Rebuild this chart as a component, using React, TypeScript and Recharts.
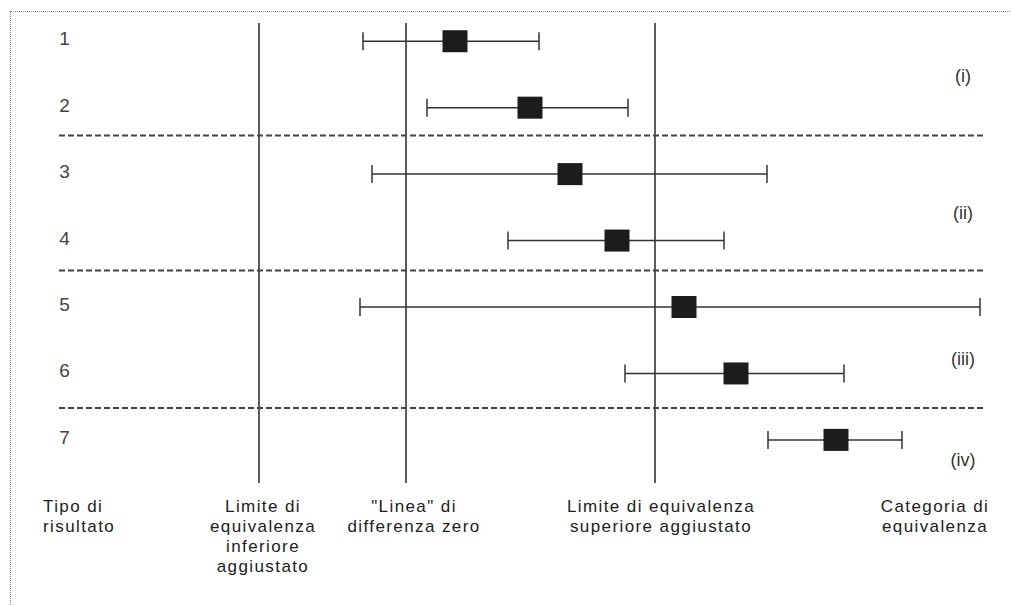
import React from 'react'
import { ComposedChart, Scatter, ErrorBar, XAxis, YAxis, ReferenceLine } from 'recharts'

// Forest-style equivalence diagram. x: difference (zero line at 0), y: result row.
const ROWS = [1, 2, 3, 4, 5, 6, 7]
const ESTIMATES = [0.49, 1.24, 1.64, 2.11, 2.78, 3.3, 4.3]
const LOWER = [-0.43, 0.21, -0.34, 1.02, -0.46, 2.19, 3.62]
const UPPER = [1.33, 2.22, 3.61, 3.18, 5.74, 4.38, 4.96]

// vertical reference lines
const LOWER_LIMIT = -1.47
const ZERO_LINE = 0
const UPPER_LIMIT = 2.49

// dashed group separators (between rows 2/3, 4/5, 6/7)
const SEPARATORS = [2.42, 4.45, 6.52]

const CATEGORIES = ['(i)', '(ii)', '(iii)', '(iv)']
const CATEGORY_Y = [1.53, 3.59, 5.78, 7.3]

const COLUMN_TITLES = [
  ['Tipo di', 'risultato'],
  ['Limite di', 'equivalenza', 'inferiore', 'aggiustato'],
  ['"Linea" di', 'differenza zero'],
  ['Limite di equivalenza', 'superiore aggiustato'],
  ['Categoria di', 'equivalenza']
]
const COLUMN_X = [-3.63, -1.43, 0.08, 2.55, 5.29]
const COLUMN_ANCHOR = ['start', 'middle', 'middle', 'middle', 'middle']

const X_DOMAIN: [number, number] = [-4.06, 6.05]
const Y_DOMAIN: [number, number] = [0.5, 9.5]
const ROW_LABEL_X = -3.415
const TITLE_Y = 8.09
const LINE_TOP = 0.726
const LINE_BOTTOM = 7.65
const SEP_LEFT = -3.47
const SEP_RIGHT = 5.8

const FONT = '"Liberation Sans", Arial, Helvetica, sans-serif'
const INK = '#1c1c1c'

const points = ROWS.map((r, i) => ({
  x: ESTIMATES[i],
  y: r,
  err: [ESTIMATES[i] - LOWER[i], UPPER[i] - ESTIMATES[i]]
}))
const rowLabels = ROWS.map((r) => ({ x: ROW_LABEL_X, y: r, text: String(r) }))
const categoryLabels = CATEGORIES.map((c, i) => ({ x: 5.57, y: CATEGORY_Y[i], text: c }))
const titles = COLUMN_TITLES.map((lines, i) => ({
  x: COLUMN_X[i],
  y: TITLE_Y,
  lines,
  anchor: COLUMN_ANCHOR[i]
}))

function Square(props: any) {
  const { cx, cy } = props
  return <rect x={cx - 12.5} y={cy - 11} width={25} height={22} fill={INK} />
}

function RowNumber(props: any) {
  const { cx, cy, payload } = props
  return (
    <text x={cx} y={cy + 4} textAnchor="middle" fontSize={19} fill="#444" fontFamily={FONT}>
      {payload.text}
    </text>
  )
}

function Category(props: any) {
  const { cx, cy, payload } = props
  return (
    <text x={cx} y={cy + 6} textAnchor="middle" fontSize={18} fill="#333" fontFamily={FONT}>
      {payload.text}
    </text>
  )
}

function Title(props: any) {
  const { cx, cy, payload } = props
  const lines: string[] = payload.lines
  return (
    <text
      x={cx}
      y={cy}
      textAnchor={payload.anchor}
      fontSize={17}
      letterSpacing={1.4}
      fill={INK}
      fontFamily={FONT}
    >
      {lines.map((l, i) => (
        <tspan key={i} x={cx} dy={i === 0 ? 0 : 20}>
          {l}
        </tspan>
      ))}
    </text>
  )
}

export default function App() {
  return (
    <div style={{ position: 'absolute', left: 0, top: 0, width: 1011, height: 606, background: '#fff' }}>
      <div
        style={{
          position: 'absolute',
          left: 10,
          top: 11,
          width: 1001,
          height: 595,
          borderLeft: '1px dotted #888',
          borderTop: '1px dotted #888'
        }}
      />
      <ComposedChart width={1011} height={606} margin={{ top: 8, right: 0, bottom: 0, left: 0 }}>
        <XAxis type="number" dataKey="x" domain={X_DOMAIN} hide allowDataOverflow />
        <YAxis type="number" dataKey="y" domain={Y_DOMAIN} reversed hide allowDataOverflow />
        {[LOWER_LIMIT, ZERO_LINE, UPPER_LIMIT].map((v) => (
          <ReferenceLine
            key={v}
            segment={[
              { x: v, y: LINE_TOP },
              { x: v, y: LINE_BOTTOM }
            ]}
            stroke="#333"
            strokeWidth={1.6}
          />
        ))}
        {SEPARATORS.map((s) => (
          <ReferenceLine
            key={s}
            segment={[
              { x: SEP_LEFT, y: s },
              { x: SEP_RIGHT, y: s }
            ]}
            stroke="#444"
            strokeWidth={2}
            strokeDasharray="6 3"
          />
        ))}
        <Scatter data={points} shape={Square} isAnimationActive={false}>
          <ErrorBar dataKey="err" direction="x" width={9} stroke="#333" strokeWidth={1.5} isAnimationActive={false} />
        </Scatter>
        <Scatter data={rowLabels} shape={RowNumber} isAnimationActive={false} />
        <Scatter data={categoryLabels} shape={Category} isAnimationActive={false} />
        <Scatter data={titles} shape={Title} isAnimationActive={false} />
      </ComposedChart>
    </div>
  )
}
